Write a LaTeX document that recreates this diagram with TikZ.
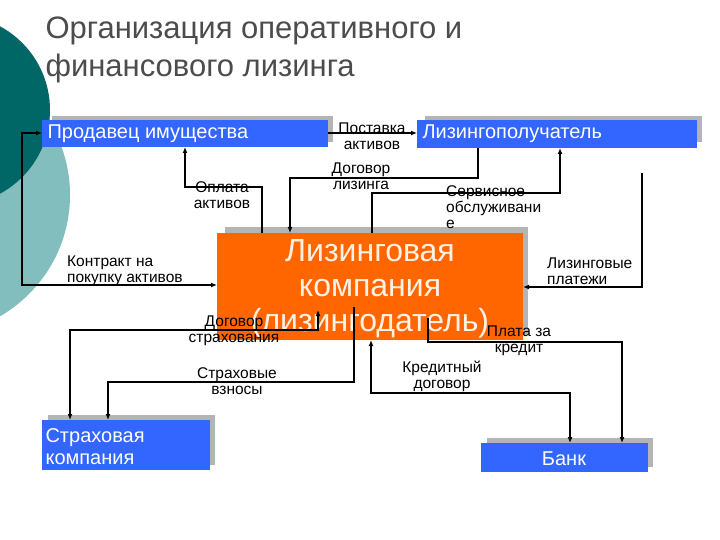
\documentclass[tikz,border=0pt]{standalone}
\usepackage{fontspec}
\setmainfont{Liberation Sans}
\usetikzlibrary{arrows.meta}
\definecolor{bblue}{RGB}{51,102,255}
\definecolor{oorange}{RGB}{255,102,0}
\definecolor{dteal}{RGB}{0,102,102}
\definecolor{lteal}{RGB}{130,190,190}
\definecolor{shad}{RGB}{180,180,180}
\begin{document}
\begin{tikzpicture}[x=1pt,y=-1pt,
  lab/.style={font=\fontsize{15.5}{16}\selectfont,align=center,inner sep=0pt},
  con/.style={line width=1.5pt,-{Latex[length=6pt,width=5pt]}}]
\useasboundingbox (0,0) rectangle (720,540);
\fill[white] (0,0) rectangle (720,540);
\begin{scope}
\clip (0,0) rectangle (720,540);
\fill[lteal] (-70,195) circle (140);
\fill[dteal] (-45,110) circle (95);
\end{scope}
\node[anchor=west,text=black!70,font=\fontsize{31}{38}\selectfont,align=left] (title) at (42,50) {Организация оперативного и\\финансового лизинга};
% shadows
\fill[shad] (52,116) rectangle (333,142);
\fill[shad] (425,116) rectangle (702,142);
\fill[shad] (225,227) rectangle (528,335);
\fill[shad] (48,415) rectangle (215,465);
\fill[shad] (487,438) rectangle (653,467);
% boxes
\fill[bblue] (42,120) rectangle (328,147);
\node[anchor=west,text=white,font=\fontsize{20}{22}\selectfont] (prod) at (44,133.5) {Продавец имущества};
\fill[bblue] (417,120) rectangle (697,148);
\node[anchor=west,text=white,font=\fontsize{20}{22}\selectfont] (lp) at (419,134) {Лизингополучатель};
\fill[oorange] (217,233) rectangle (523,340);
\node[text=white!90!orange,font=\fontsize{32}{35}\selectfont,align=center] (lk) at (370,289) {Лизинговая\\компания\\(лизингодатель)};
\fill[bblue] (42,420) rectangle (210,470);
\node[anchor=west,text=white,font=\fontsize{20}{22}\selectfont,align=left] (sk) at (42,447) {Страховая\\компания};
\fill[bblue] (481,443) rectangle (648,472);
\node[text=white,font=\fontsize{20}{22}\selectfont] (bank) at (564,459) {Банк};
% connectors
\draw[con,{Latex[length=6pt,width=5pt]}-{Latex[length=6pt,width=5pt]}] (217,285) -- (22,285) -- (22,133) -- (42,133);
\draw[con] (328,133) -- (417,133);
\draw[con] (262,233) -- (262,187) -- (185,187) -- (185,147);
\draw[con] (478,148) -- (478,178) -- (290,178) -- (290,233);
\draw[con] (372,233) -- (372,193) -- (560,193) -- (560,148);
\draw[con] (642,173) -- (642,287) -- (523,287);
\draw[con,{Latex[length=6pt,width=5pt]}-{Latex[length=6pt,width=5pt]}] (318,310) -- (318,330) -- (70,330) -- (70,420);
\draw[con] (354,307) -- (354,382) -- (108,382) -- (108,420);
\draw[con,{Latex[length=6pt,width=5pt]}-{Latex[length=6pt,width=5pt]}] (371,340) -- (371,393) -- (570,393) -- (570,443);
\draw[con] (428,318) -- (428,342) -- (622,342) -- (622,443);
% labels
\node[lab] (l1) at (372,136) {Поставка\\активов};
\node[lab] (l2) at (222,195) {Оплата\\активов};
\node[lab] (l3) at (361,176) {Договор\\лизинга};
\node[lab,align=left,anchor=north west] (l4) at (446,185) {Сервисное\\обслуживани\\е};
\node[lab,align=left,anchor=west] (l5) at (67,271) {Контракт на\\покупку активов};
\node[lab,align=left,anchor=west] (l6) at (547,271) {Лизинговые\\платежи};
\node[lab] (l7) at (234,331) {Договор\\страхования};
\node[lab] (l8) at (237,381) {Страховые\\взносы};
\node[lab] (l9) at (442,376) {Кредитный\\договор};
\node[lab] (l10) at (519,341) {Плата за\\кредит};
\end{tikzpicture}
\end{document}
